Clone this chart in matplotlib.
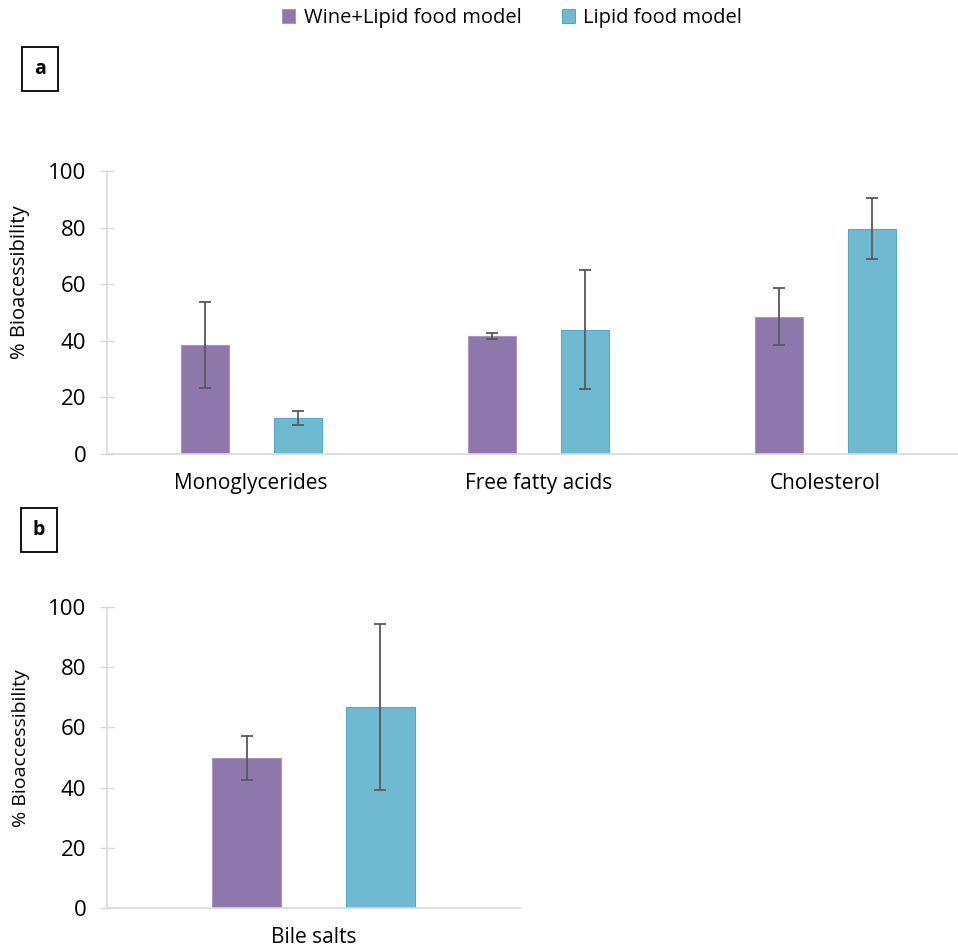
import matplotlib.pyplot as plt
import numpy as np

plt.rcParams['font.family'] = ['Open Sans', 'DejaVu Sans']

# panel a data
categories_a = ["Monoglycerides", "Free fatty acids", "Cholesterol"]
wine_lipid_a = [38.5, 41.6, 48.5]
wine_lipid_err_a = [15.2, 1.0, 10.1]
lipid_a = [12.7, 43.9, 79.6]
lipid_err_a = [2.4, 21.1, 10.7]

# panel b data
categories_b = ["Bile salts"]
wine_lipid_b = [49.8]
wine_lipid_err_b = [7.4]
lipid_b = [66.8]
lipid_err_b = [27.6]

series_names = ["Wine+Lipid food model", "Lipid food model"]
purple = "#8E78AB"
teal = "#6FBAD0"
grid_grey = "#D9D9D9"
err_grey = "#595959"

fig = plt.figure(figsize=(9.58, 9.51), dpi=100)

W, H = 958, 951


def px_axes(left, right, top, bottom):
    return fig.add_axes([left / W, 1 - bottom / H, (right - left) / W, (bottom - top) / H])


def draw_panel(ax, cats, v1, e1, v2, e2, xlim, ylabel, ylabel_size):
    x = np.arange(len(cats))
    w = 0.167
    off = 0.162
    ekw = dict(ecolor=err_grey, elinewidth=1.3, capsize=4.5, capthick=1.3)
    ax.bar(x - off, v1, w, color=purple, edgecolor="#A996C0", linewidth=0.8,
           yerr=e1, error_kw=ekw, label=series_names[0], zorder=2)
    ax.bar(x + off, v2, w, color=teal, edgecolor="#4BACC6", linewidth=0.8,
           yerr=e2, error_kw=ekw, label=series_names[1], zorder=2)
    ax.set_xlim(*xlim)
    ax.set_ylim(0, 100)
    ax.set_yticks([0, 20, 40, 60, 80, 100])
    ax.set_xticks(x)
    ax.set_xticklabels(cats, fontsize=15)
    ax.tick_params(axis='x', length=0, pad=14)
    ax.tick_params(axis='y', direction='inout', length=10, width=1,
                   color=grid_grey, labelsize=16, pad=10)
    for s in ["top", "right"]:
        ax.spines[s].set_visible(False)
    for s in ["left", "bottom"]:
        ax.spines[s].set_color(grid_grey)
        ax.spines[s].set_linewidth(1.2)
    ax.set_ylabel(ylabel, fontsize=ylabel_size)


ax_a = px_axes(107, 958, 171, 454)
draw_panel(ax_a, categories_a, wine_lipid_a, wine_lipid_err_a,
           lipid_a, lipid_err_a, (-0.502, 2.462), "% Bioacessibility", 14.5)
ax_a.yaxis.set_label_coords(-77 / 851, 0.608)

ax_b = px_axes(107, 520, 607, 908)
draw_panel(ax_b, categories_b, wine_lipid_b, wine_lipid_err_b,
           lipid_b, lipid_err_b, (-0.5, 0.5), "% Bioaccessibility", 14)
ax_b.yaxis.set_label_coords(-77 / 413, 0.53)

# panel labels in boxes
box = dict(boxstyle="square,pad=0.6", facecolor="white", edgecolor="black", linewidth=1.3)
fig.text(40 / W, 1 - 69 / H, "a", fontsize=14, fontweight="bold", ha="center",
         va="center", bbox=box)
fig.text(39 / W, 1 - 530 / H, "b", fontsize=14, fontweight="bold", ha="center",
         va="center", bbox=box)

# legend
handles, labels = ax_a.get_legend_handles_labels()
fig.legend(handles, labels, loc="center", bbox_to_anchor=(512 / W, 1 - 18 / H),
           ncol=2, frameon=False, fontsize=14.5, handlelength=0.65, handleheight=0.65,
           handletextpad=0.4, columnspacing=2.0)

fig.savefig("out.png", dpi=100)
